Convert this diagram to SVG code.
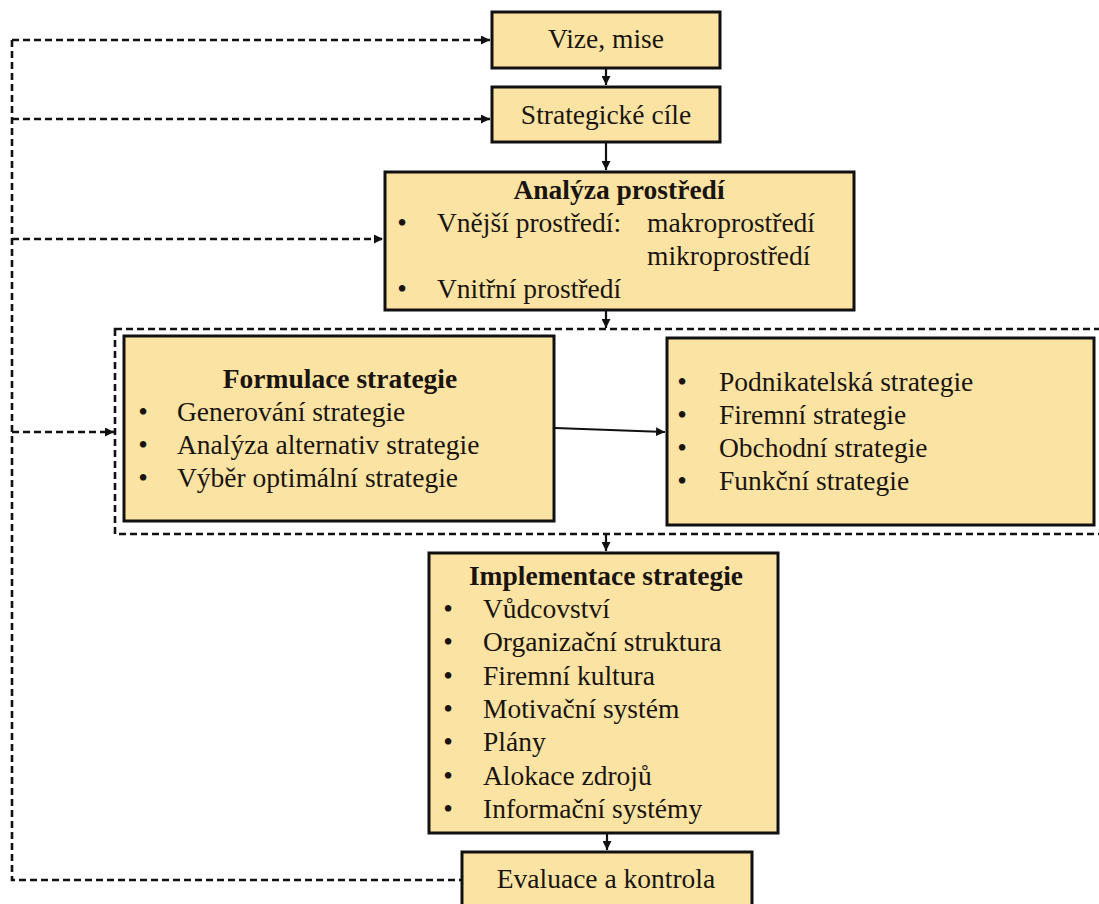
<svg xmlns="http://www.w3.org/2000/svg" width="1099" height="904" viewBox="0 0 1099 904">
<style>
.box{fill:#FBE4A3;stroke:#111;stroke-width:3}
.t{font-family:'Liberation Serif','DejaVu Serif',serif;font-size:27.5px;fill:#1a1410}
.b{font-weight:bold}
.m{text-anchor:middle}
.solid{fill:none;stroke:#111;stroke-width:2.2}
.dash{fill:none;stroke:#111;stroke-width:2.6;stroke-dasharray:7 4}
</style>
<defs>
<marker id="ah" markerUnits="userSpaceOnUse" markerWidth="10" markerHeight="9" refX="9" refY="4.5" orient="auto">
<path d="M0,0 L9,4.5 L0,9 z" fill="#111"/>
</marker>
</defs>
<rect width="1099" height="904" fill="#fff"/>
<g id="connectors">
<rect class="dash" x="115" y="329" width="992" height="205"/>
<path class="dash" d="M12 40 V880 H462"/>
<path class="dash" d="M12 40 H490" marker-end="url(#ah)"/>
<path class="dash" d="M12 119 H490" marker-end="url(#ah)"/>
<path class="dash" d="M12 239 H383" marker-end="url(#ah)"/>
<path class="dash" d="M12 432 H114" marker-end="url(#ah)"/>
<path class="solid" d="M606 68 V85" marker-end="url(#ah)"/>
<path class="solid" d="M606 142 V170" marker-end="url(#ah)"/>
<path class="solid" d="M606 310 V328" marker-end="url(#ah)"/>
<path class="solid" d="M555 428 L665 432" marker-end="url(#ah)"/>
<path class="solid" d="M606 534 V551" marker-end="url(#ah)"/>
<path class="solid" d="M607 833 V850" marker-end="url(#ah)"/>
</g>
<g id="vize">
<rect class="box" x="492" y="12" width="228" height="56"/>
<text class="t m" x="606" y="48" font-family="Liberation Serif, serif">Vize, mise</text>
</g>
<g id="cile">
<rect class="box" x="492" y="87" width="228" height="55"/>
<text class="t m" x="606" y="124">Strategické cíle</text>
</g>
<g id="analyza">
<rect class="box" x="385" y="172" width="469" height="138"/>
<text class="t b m" x="619" y="199">Analýza prostředí</text>
<text class="t m" x="402" y="232">•</text>
<text class="t" x="437" y="232">Vnější prostředí:</text>
<text class="t" x="647" y="232">makroprostředí</text>
<text class="t" x="647" y="265">mikroprostředí</text>
<text class="t m" x="402" y="298">•</text>
<text class="t" x="437" y="298">Vnitřní prostředí</text>
</g>
<g id="formulace">
<rect class="box" x="124" y="336" width="430" height="185"/>
<text class="t b m" x="340" y="388">Formulace strategie</text>
<text class="t m" x="143" y="421">•</text>
<text class="t" x="177" y="421">Generování strategie</text>
<text class="t m" x="143" y="454">•</text>
<text class="t" x="177" y="454">Analýza alternativ strategie</text>
<text class="t m" x="143" y="487">•</text>
<text class="t" x="177" y="487">Výběr optimální strategie</text>
</g>
<g id="typy">
<rect class="box" x="667" y="338" width="427" height="187"/>
<text class="t m" x="682" y="391">•</text>
<text class="t" x="719" y="391">Podnikatelská strategie</text>
<text class="t m" x="682" y="424">•</text>
<text class="t" x="719" y="424">Firemní strategie</text>
<text class="t m" x="682" y="457">•</text>
<text class="t" x="719" y="457">Obchodní strategie</text>
<text class="t m" x="682" y="490">•</text>
<text class="t" x="719" y="490">Funkční strategie</text>
</g>
<g id="implementace">
<rect class="box" x="429" y="553" width="349" height="280"/>
<text class="t b m" x="606" y="585">Implementace strategie</text>
<text class="t m" x="448" y="618">•</text>
<text class="t" x="483" y="618">Vůdcovství</text>
<text class="t m" x="448" y="651">•</text>
<text class="t" x="483" y="651">Organizační struktura</text>
<text class="t m" x="448" y="685">•</text>
<text class="t" x="483" y="685">Firemní kultura</text>
<text class="t m" x="448" y="718">•</text>
<text class="t" x="483" y="718">Motivační systém</text>
<text class="t m" x="448" y="751">•</text>
<text class="t" x="483" y="751">Plány</text>
<text class="t m" x="448" y="785">•</text>
<text class="t" x="483" y="785">Alokace zdrojů</text>
<text class="t m" x="448" y="818">•</text>
<text class="t" x="483" y="818">Informační systémy</text>
</g>
<g id="evaluace">
<rect class="box" x="462" y="852" width="290" height="58"/>
<text class="t m" x="606" y="888">Evaluace a kontrola</text>
</g>
</svg>
